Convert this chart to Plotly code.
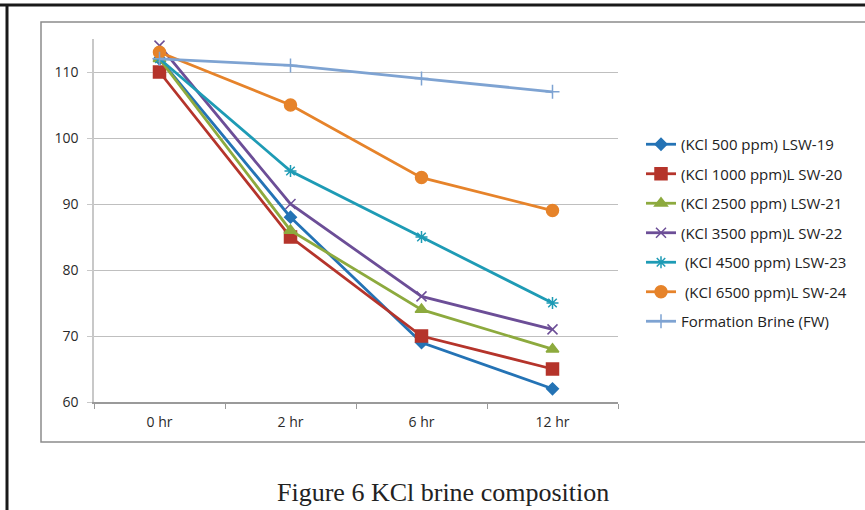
import plotly.graph_objects as go

categories = ["0 hr", "2 hr", "6 hr", "12 hr"]
series_names = [
    "(KCl 500 ppm) LSW-19",
    "(KCl 1000 ppm)L SW-20",
    "(KCl 2500 ppm) LSW-21",
    "(KCl 3500 ppm)L SW-22",
    " (KCl 4500 ppm) LSW-23",
    " (KCl 6500 ppm)L SW-24",
    "Formation Brine (FW)",
]
lsw19 = [112, 88, 69, 62]
lsw20 = [110, 85, 70, 65]
lsw21 = [112, 86, 74, 68]
lsw22 = [114, 90, 76, 71]
lsw23 = [112, 95, 85, 75]
lsw24 = [113, 105, 94, 89]
fw = [112, 111, 109, 107]
y_ticks = [60, 70, 80, 90, 100, 110]

series_values = [lsw19, lsw20, lsw21, lsw22, lsw23, lsw24, fw]
colors = ["#2473B5", "#B5342B", "#8DAA3E", "#6C4E97", "#1E9BB5", "#E6832A", "#7EA3D2"]
symbols = ["diamond", "square", "triangle-up", "x-thin-open", "asterisk-open", "circle", "cross-thin-open"]
sizes = [9, 12, 11, 10, 10, 12, 10]

fig = go.Figure()
for i, (name, vals) in enumerate(zip(series_names, series_values)):
    fig.add_trace(go.Scatter(
        x=categories, y=vals, name=name, mode="lines+markers",
        legendgroup=str(i),
        line=dict(color=colors[i], width=2.8),
        marker=dict(symbol=symbols[i], size=sizes[i], color=colors[i],
                    line=dict(color=colors[i], width=1.5)),
    ))

W, H = 865, 510
L, R, T, B = 94, 247, 39, 108
pw, ph = W - L - R, H - T - B

def px(x):
    return (x - L) / pw

def py(y):
    return (H - B - y) / ph

shapes = [
    dict(type="line", xref="paper", yref="paper", x0=px(0), x1=px(866), y0=py(5), y1=py(5),
         line=dict(color="#1a1a1a", width=3)),
    dict(type="line", xref="paper", yref="paper", x0=px(7), x1=px(7), y0=py(5), y1=py(512),
         line=dict(color="#1a1a1a", width=3)),
    dict(type="rect", xref="paper", yref="paper", x0=px(41), x1=px(870), y0=py(442), y1=py(22),
         line=dict(color="#8c8c8c", width=1.5), fillcolor="rgba(0,0,0,0)"),
]

fig.update_layout(
    width=W, height=H,
    margin=dict(l=L, r=R, t=T, b=B, pad=0),
    paper_bgcolor="white", plot_bgcolor="white",
    font=dict(family="Open Sans, Lato, sans-serif", size=14, color="#2a2a2a"),
    shapes=shapes,
    showlegend=True,
    legend=dict(x=px(641), y=py(128), xanchor="left", yanchor="top",
                font=dict(size=15, color="#222222"), tracegroupgap=7,
                itemwidth=30, bgcolor="rgba(0,0,0,0)"),
    annotations=[dict(text="Figure 6 KCl brine composition", xref="paper", yref="paper",
                      x=px(443), y=py(492), xanchor="center", yanchor="middle", showarrow=False,
                      font=dict(family="Liberation Serif, Times New Roman, serif", size=26, color="#222222"))],
)
fig.update_xaxes(type="category", range=[-0.5, 3.5], showgrid=False, showline=True,
                 linecolor="#9a9a9a", linewidth=1.5, ticks="outside", ticklen=5,
                 tickcolor="#9a9a9a", tickson="boundaries", tickfont=dict(size=14),
                 ticklabelstandoff=6)
fig.update_yaxes(range=[60, 115], tickvals=y_ticks, showgrid=True, gridcolor="#bfbfbf",
                 gridwidth=1.2, showline=True, linecolor="#c8c8c8", linewidth=1.5,
                 ticks="outside", ticklen=5, tickcolor="#c8c8c8", zeroline=False,
                 tickfont=dict(size=14), ticklabelstandoff=6)

fig.write_html("out.html")
